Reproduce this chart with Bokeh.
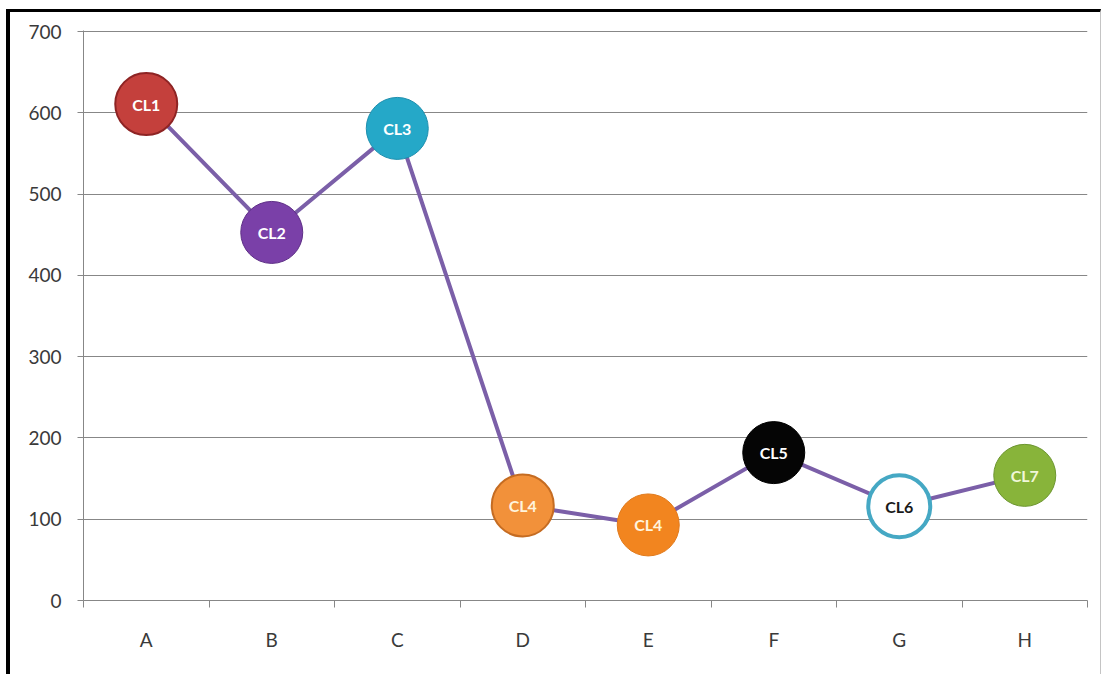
from bokeh.plotting import figure
from bokeh.models import FixedTicker, ColumnDataSource
from bokeh.core.properties import value
from bokeh.embed import file_html
from bokeh.resources import INLINE

# data
categories = ["A", "B", "C", "D", "E", "F", "G", "H"]
values = [611, 453, 581, 117, 93, 182, 116, 154]
labels = ["CL1", "CL2", "CL3", "CL4", "CL4", "CL5", "CL6", "CL7"]
fill_colors = ["#c4403c", "#7a40a8", "#25a8c8", "#f2913a", "#f2851f", "#050505", "#ffffff", "#88b43a"]
edge_colors = ["#8e2424", "#5e2f86", "#1f8fae", "#c56c22", "#e07a1c", "#000000", "#45a8c4", "#6c9530"]
edge_widths = [2, 1, 1, 2, 1, 1, 4, 1]
text_colors = ["#ffffff", "#ffffff", "#ffffff", "#fff4dc", "#fff4dc", "#ffffff", "#1a1a1a", "#f0f7d8"]
y_ticks = [0, 100, 200, 300, 400, 500, 600, 700]

xs = [i + 0.5 for i in range(len(categories))]

src = ColumnDataSource(dict(x=xs, y=values, label=labels, fill=fill_colors,
                            edge=edge_colors, lw=edge_widths, tc=text_colors))

p = figure(width=1095, height=665, x_range=(0, len(categories)), y_range=(0, 701.5),
           output_backend="svg", toolbar_location=None,
           min_border_left=73, min_border_right=18, min_border_top=18, min_border_bottom=77)
p.styles = {"margin-left": "6px", "margin-top": "9px",
            "border-left": "4px solid #000000", "border-top": "3px solid #000000",
            "border-right": "1px solid #c4c4c4", "border-bottom": "0px none"}
p.outline_line_color = None
p.background_fill_color = "white"
p.border_fill_color = "white"

axis_gray = "#878787"
label_gray = "#3a3a3a"

# y axis
p.yaxis.ticker = FixedTicker(ticks=y_ticks)
p.yaxis.axis_line_color = axis_gray
p.yaxis.major_tick_line_color = axis_gray
p.yaxis.major_tick_out = 6
p.yaxis.major_tick_in = 0
p.yaxis.minor_tick_line_color = None
p.yaxis.major_label_standoff = 16
p.yaxis.major_label_text_font = "Lato"
p.yaxis.major_label_text_font_size = "19px"
p.yaxis.major_label_text_color = label_gray

# x axis: labels at category centres, ticks at category boundaries
p.xaxis.ticker = FixedTicker(ticks=xs, minor_ticks=list(range(len(categories) + 1)))
p.xaxis.major_label_overrides = {x: c for x, c in zip(xs, categories)}
p.xaxis.axis_line_color = axis_gray
p.xaxis.major_tick_line_color = None
p.xaxis.minor_tick_line_color = axis_gray
p.xaxis.minor_tick_out = 7
p.xaxis.minor_tick_in = 0
p.xaxis.major_tick_out = 0
p.xaxis.major_tick_in = 0
p.xaxis.major_label_standoff = 20
p.xaxis.major_label_text_font = "Lato"
p.xaxis.major_label_text_font_size = "19px"
p.xaxis.major_label_text_color = label_gray

p.xgrid.grid_line_color = None
p.ygrid.grid_line_color = axis_gray
p.ygrid.grid_line_width = 1

# connecting line
p.line("x", "y", source=src, line_color="#7b5fa8", line_width=4)

# bubbles
p.scatter("x", "y", source=src, size=62, fill_color="fill", line_color="edge",
          line_width="lw")
p.text("x", "y", text="label", source=src, text_color="tc",
       text_align="center", text_baseline="middle",
       text_font=value("Lato"), text_font_style="bold", text_font_size="16px")

open("out.html", "w").write(file_html(p, INLINE))
